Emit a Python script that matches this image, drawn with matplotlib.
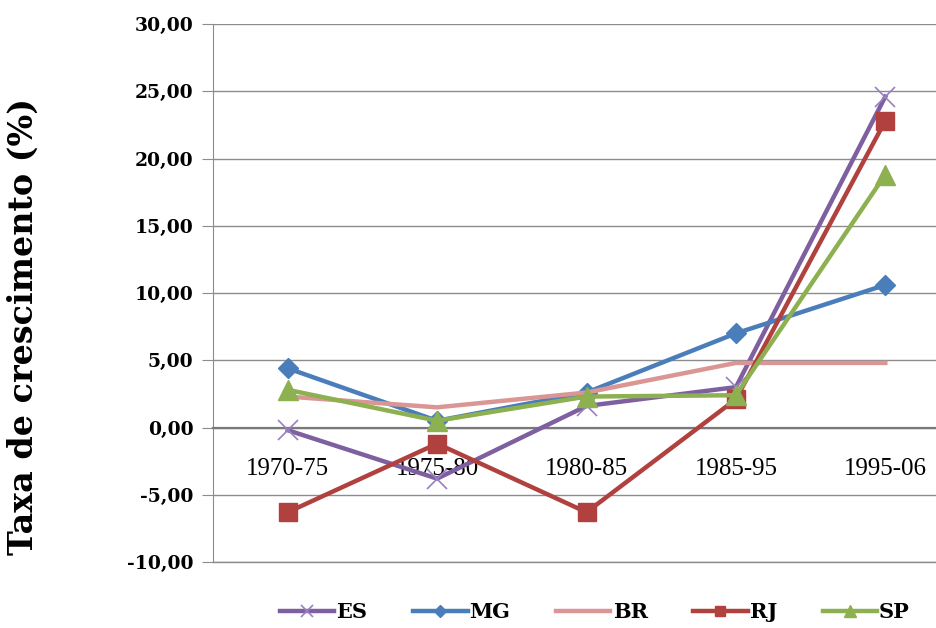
import numpy as np
import matplotlib.pyplot as plt
from matplotlib.ticker import FuncFormatter, FixedLocator

periods = ['1970-75', '1975-80', '1980-85', '1985-95', '1995-06']
es = [-0.2, -3.8, 1.6, 3.0, 24.6]
mg = [4.4, 0.5, 2.6, 7.0, 10.6]
br = [2.3, 1.5, 2.6, 4.8, 4.8]
rj = [-6.3, -1.2, -6.3, 2.1, 22.8]
sp = [2.8, 0.5, 2.3, 2.4, 18.8]

fig = plt.figure(figsize=(9.36, 6.28), dpi=100)
ax = fig.add_axes([213/936, 1-562/628, 747/936, 538/628])

x = np.arange(len(periods))
lw = 3.2
ax.plot(x, es, color='#7E5FA0', lw=lw, marker='x', ms=14, mew=1.2,
        mec='#9A80C0', label='ES', zorder=3)
ax.plot(x, mg, color='#4A7EBB', lw=lw, marker='D', ms=10, label='MG', zorder=3)
ax.plot(x, br, color='#D99694', lw=lw, label='BR', zorder=3)
ax.plot(x, rj, color='#B0413E', lw=lw, marker='s', ms=13, label='RJ', zorder=3)
ax.plot(x, sp, color='#8DB050', lw=lw, marker='^', ms=14, label='SP', zorder=3)

ax.set_xlim(-0.5, 4.5)
ax.set_ylim(-10, 30)
ax.yaxis.set_major_locator(FixedLocator(np.arange(-10, 31, 5)))
ax.yaxis.set_major_formatter(FuncFormatter(lambda v, p: f'{v:.2f}'.replace('.', ',')))
ax.grid(axis='y', color='#8c8c8c', lw=1.0)
ax.axhline(-10, color='#8c8c8c', lw=1.0, clip_on=False, zorder=1)
ax.set_axisbelow(True)

for s in ['top', 'right']:
    ax.spines[s].set_visible(False)
ax.spines['left'].set_color('#8c8c8c')
ax.spines['bottom'].set_position(('data', 0))
ax.spines['bottom'].set_color('#7a7a7a')
ax.spines['bottom'].set_linewidth(1.6)

ax.set_xticks(x)
ax.set_xticklabels(periods, family='Liberation Serif', fontsize=18)
ax.tick_params(axis='x', length=0, pad=22)
for t in ax.get_xticklabels():
    t.set_zorder(5)
ax.tick_params(axis='y', length=8, color='#8c8c8c', pad=6)
for t in ax.get_yticklabels():
    t.set_family('DejaVu Serif')
    t.set_fontweight('bold')
    t.set_fontsize(13.5)

ax.set_ylabel('Taxa de crescimento (%)', family='DejaVu Serif',
              fontweight='bold', fontsize=24)
ax.yaxis.set_label_coords(-0.232, 0.437)

fig.legend(loc='center', bbox_to_anchor=(595/936, 1-612/628), ncol=5,
           frameon=False, handlelength=2.6, handletextpad=0.1,
           columnspacing=2.2, markerscale=0.6,
           prop={'family': 'DejaVu Serif', 'weight': 'bold', 'size': 15})

fig.savefig('out.png', dpi=100)
